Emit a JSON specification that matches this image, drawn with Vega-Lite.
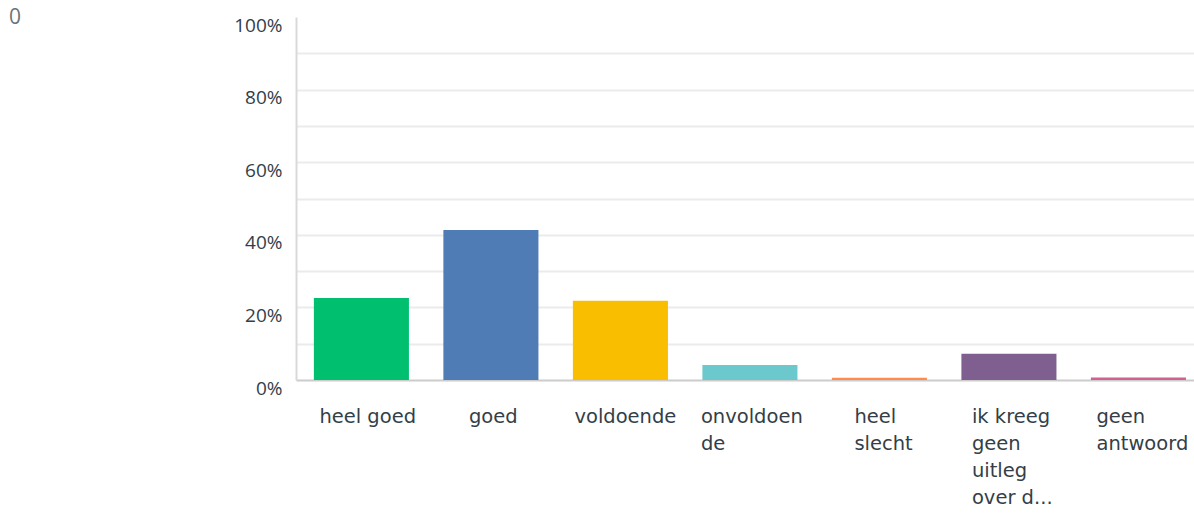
{
  "$schema": "https://vega.github.io/schema/vega-lite/v6.json",
  "width": 898,
  "height": 363,
  "autosize": "none",
  "padding": {"left": 296, "top": 17, "right": 0, "bottom": 135},
  "background": "white",
  "title": {
    "text": "0",
    "anchor": "start",
    "frame": "group",
    "orient": "top",
    "offset": 0,
    "baseline": "alphabetic",
    "dx": -287,
    "dy": 29,
    "font": "Open Sans",
    "fontSize": 21,
    "fontWeight": "normal",
    "color": "#6b7479"
  },
  "data": {
    "values": [
      {"answer": "heel goed", "pct": 0.226, "color": "#00bf6f"},
      {"answer": "goed", "pct": 0.413, "color": "#507cb6"},
      {"answer": "voldoende", "pct": 0.218, "color": "#f9be00"},
      {"answer": "onvoldoende", "pct": 0.041, "color": "#6bc8cd"},
      {"answer": "heel slecht", "pct": 0.006, "color": "#ff8b4f"},
      {"answer": "ik kreeg geen uitleg over d...", "pct": 0.072, "color": "#7f5f90"},
      {"answer": "geen antwoord", "pct": 0.007, "color": "#d25f90"}
    ]
  },
  "mark": {"type": "bar"},
  "encoding": {
    "x": {
      "field": "answer",
      "type": "nominal",
      "sort": null,
      "scale": {"paddingInner": 0.266, "paddingOuter": 0.1, "align": 0.69},
      "axis": {
        "title": null,
        "ticks": false,
        "domainColor": "#cccccc",
        "domainWidth": 2,
        "labelAngle": 0,
        "labelAlign": "left",
        "labelBaseline": "top",
        "labelPadding": 27,
        "labelFont": "DejaVu Sans",
        "labelFontSize": 19.5,
        "labelColor": "#333e48",
        "labelLineHeight": 27,
        "labelLimit": 0,
        "labelBound": false,
        "labelOverlap": false,
        "labelExpr": "datum.value == 'onvoldoende' ? ['onvoldoen', ' de'] : datum.value == 'heel slecht' ? ['heel', 'slecht'] : datum.value == 'ik kreeg geen uitleg over d...' ? ['ik kreeg', 'geen', 'uitleg', 'over d...'] : datum.value == 'geen antwoord' ? ['geen', 'antwoord'] : datum.value",
        "labelOffset": {"expr": "datum.value == 'heel goed' ? -42 : datum.value == 'goed' ? -22 : datum.value == 'voldoende' ? -46 : datum.value == 'onvoldoende' ? -49 : datum.value == 'heel slecht' ? -25 : datum.value == 'ik kreeg geen uitleg over d...' ? -37 : -42"}
      }
    },
    "y": {
      "field": "pct",
      "type": "quantitative",
      "scale": {"domain": [0, 1], "nice": false},
      "axis": {
        "title": null,
        "values": [0, 0.1, 0.2, 0.3, 0.4, 0.5, 0.6, 0.7, 0.8, 0.9, 1],
        "format": ".0%",
        "labelExpr": "round(datum.value * 100) % 20 == 0 ? datum.label : ''",
        "ticks": false,
        "domainColor": "#d9d9d9",
        "domainWidth": 2,
        "grid": true,
        "gridColor": "#ebebeb",
        "gridWidth": 2,
        "gridOpacity": {"condition": {"test": "datum.value >= 1 || datum.value <= 0", "value": 0}, "value": 1},
        "labelFont": "Open Sans",
        "labelFontSize": 19,
        "labelColor": "#333e48",
        "labelPadding": 14,
        "labelOffset": 8
      }
    },
    "color": {"field": "color", "type": "nominal", "scale": null}
  },
  "config": {
    "view": {"stroke": null}
  }
}
